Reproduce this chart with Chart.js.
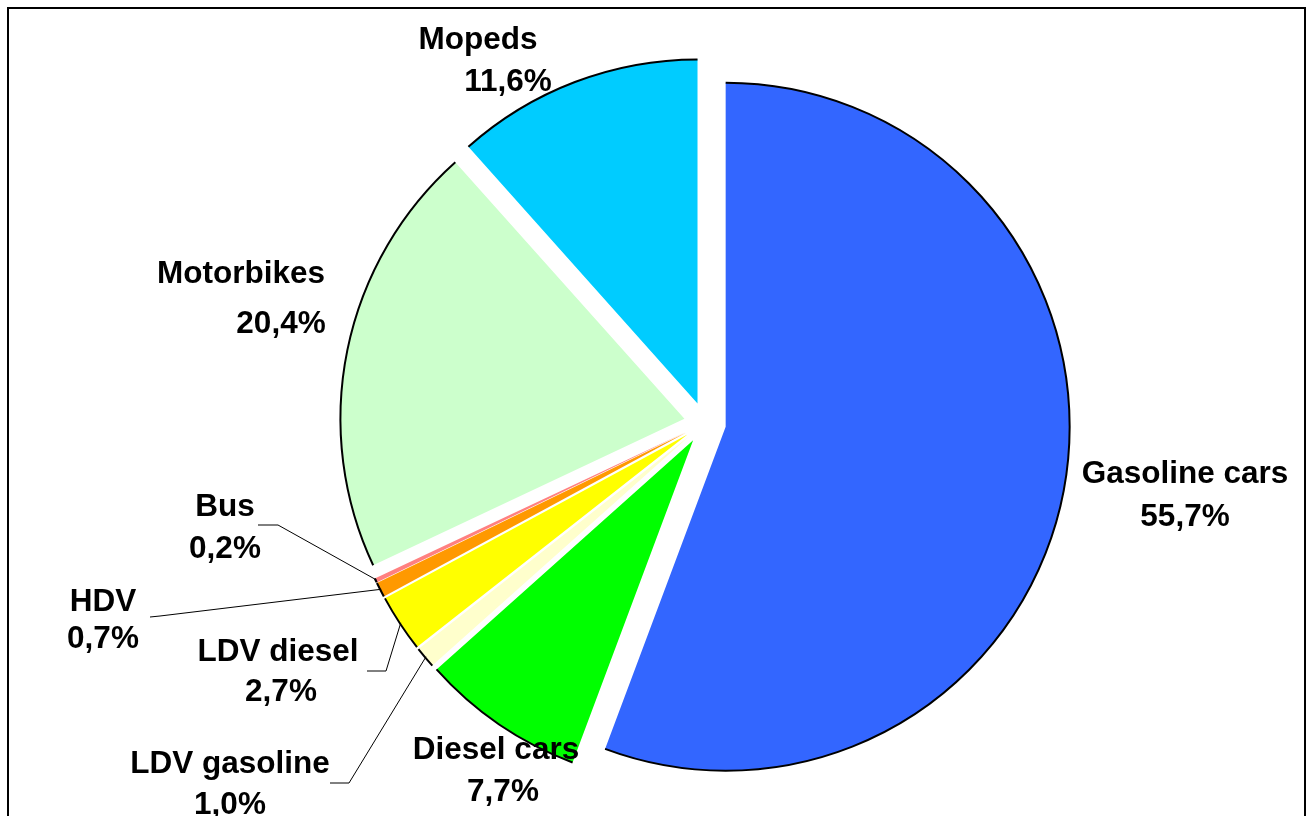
<!DOCTYPE html>
<html>
<head>
<meta charset="utf-8">
<script src="https://cdn.jsdelivr.net/npm/chart.js@4.4.0/dist/chart.umd.min.js"></script>
<style>
  body { margin: 0; background: #fff; }
  #wrap { width: 1310px; height: 816px; position: relative; }
</style>
</head>
<body>
<div id="wrap"><canvas id="VehicleChart"></canvas></div>
<script>
const categories = ['Gasoline cars', 'Diesel cars', 'LDV gasoline', 'LDV diesel', 'HDV', 'Bus', 'Motorbikes', 'Mopeds'];
const shares = [55.7, 7.7, 1.0, 2.7, 0.7, 0.2, 20.4, 11.6];
const colors = ['#3366FF', '#00FF00', '#FFFFCC', '#FFFF00', '#FF9900', '#FF8080', '#CCFFCC', '#00CCFF'];

// text placement of each label: [x line1, baseline line1, x line2, baseline line2]
const labelPos = [
    [1185, 483, 1185, 526],
    [496, 759, 503, 801],
    [230, 773, 230, 814],
    [278, 661, 281, 701],
    [103, 611, 103, 648],
    [225, 516, 225, 558],
    [241, 283, 281, 333],
    [478, 49, 508, 91]
];
// leader lines of the thin slices (text end -> elbow), the pie end comes from the arc
const leaders = {
    2: [[330, 783], [349, 783]],
    3: [[367, 671], [386, 671]],
    4: [[150, 617], [160, 616]],
    5: [[258, 525], [278, 525]]
};

const EXPLODE = 21;
const FONT = 'bold 31.5px "Liberation Sans", Arial, sans-serif';

// every slice pulled out by the same distance, outline only on the rim
const arcDraw = Chart.ArcElement.prototype.draw;
Chart.ArcElement.prototype.draw = function (ctx) {
    const mid = (this.startAngle + this.endAngle) / 2;
    ctx.save();
    ctx.translate(Math.cos(mid) * EXPLODE, Math.sin(mid) * EXPLODE);
    arcDraw.call(this, ctx);
    ctx.beginPath();
    ctx.arc(this.x, this.y, this.outerRadius, this.startAngle, this.endAngle);
    ctx.lineWidth = 2;
    ctx.strokeStyle = '#000';
    ctx.stroke();
    ctx.restore();
};

const framePlugin = {
    id: 'frame',
    beforeDraw(chart) {
        const c = chart.ctx;
        c.save();
        c.lineWidth = 2;
        c.strokeStyle = '#000';
        c.strokeRect(8, 8, 1297, 900);
        c.restore();
    }
};

const labelPlugin = {
    id: 'sliceLabels',
    afterDatasetsDraw(chart) {
        const c = chart.ctx;
        const arcs = chart.getDatasetMeta(0).data;
        c.save();
        c.lineWidth = 1;
        c.strokeStyle = '#000';
        Object.keys(leaders).forEach(k => {
            const a = arcs[k];
            const mid = (a.startAngle + a.endAngle) / 2;
            const r = a.outerRadius + EXPLODE - 1;
            const pts = leaders[k];
            c.beginPath();
            c.moveTo(pts[0][0], pts[0][1]);
            c.lineTo(pts[1][0], pts[1][1]);
            c.lineTo(a.x + Math.cos(mid) * r, a.y + Math.sin(mid) * r);
            c.stroke();
        });
        c.font = FONT;
        c.fillStyle = '#000';
        c.textAlign = 'center';
        c.textBaseline = 'alphabetic';
        categories.forEach((name, i) => {
            const p = labelPos[i];
            c.fillText(name, p[0], p[1]);
            c.fillText(shares[i].toFixed(1).replace('.', ',') + '%', p[2], p[3]);
        });
        c.restore();
    }
};

const ctx = document.getElementById('VehicleChart').getContext('2d');

const data = {
    labels: categories,
    datasets: [
        {
            data: shares,
            backgroundColor: colors,
            borderWidth: 0,
            radius: 344
        }
    ]
};

const config = {
    type: 'pie',
    data: data,
    options: {
        responsive: true,
        maintainAspectRatio: false,
        animation: false,
        events: [],
        layout: {
            padding: {left: 100, top: 30, right: 0, bottom: 0}
        },
        plugins: {
            legend: {display: false},
            tooltip: {enabled: false}
        }
    },
    plugins: [framePlugin, labelPlugin]
};

const pie = new Chart(ctx, config);
</script>
</body>
</html>
